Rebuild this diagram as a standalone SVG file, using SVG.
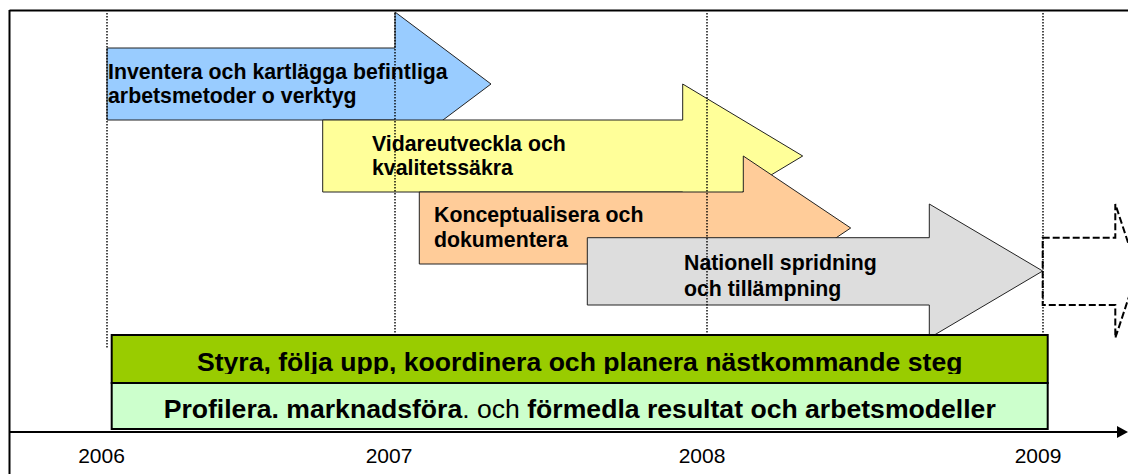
<svg xmlns="http://www.w3.org/2000/svg" width="1128" height="474" viewBox="0 0 1128 474">
<style>
  .lbl{font-family:"Liberation Sans",Arial,sans-serif;font-size:21.3px;font-weight:bold;fill:#000}
  .yr{font-family:"Liberation Sans",Arial,sans-serif;font-size:21px;fill:#000;text-anchor:middle}
  .bar{font-family:"Liberation Sans",Arial,sans-serif;font-size:26.6px;font-weight:bold;fill:#000;text-anchor:middle}
  .arw{stroke:#222;stroke-width:1;stroke-linejoin:miter}
  .dot{stroke:#000;stroke-width:1.4;stroke-dasharray:1.5 1.5;fill:none}
  .frame{stroke:#000;stroke-width:2;fill:none}
</style>
<defs>
  <clipPath id="clipA"><rect x="100" y="335" width="960" height="39"/></clipPath>
  <clipPath id="clipB"><rect x="100" y="383" width="960" height="38"/></clipPath>
</defs>
<rect width="1128" height="474" fill="#fff"/>
<g id="frame">
  <line class="frame" x1="9.5" y1="10.5" x2="1128" y2="10.5"/>
  <line class="frame" x1="9.5" y1="10" x2="9.5" y2="474"/>
</g>
<g id="phase1">
  <polygon class="arw" fill="#99CCFF" points="107,48 395,48 395,12 491,84 395,156 395,120 107,120"/>
  <text class="lbl" x="108" y="79">Inventera och kartlägga befintliga</text>
  <text class="lbl" x="108" y="103">arbetsmetoder o verktyg</text>
</g>
<g id="phase2">
  <polygon class="arw" fill="#FFFF99" points="322.7,120 682.7,120 682.7,84 802.7,156 682.7,228 682.7,192 322.7,192"/>
  <text class="lbl" x="372" y="150.5">Vidareutveckla och</text>
  <text class="lbl" x="372" y="175">kvalitetssäkra</text>
</g>
<g id="phase3">
  <polygon class="arw" fill="#FFCC99" points="419.3,192 743.3,192 743.3,156 850.7,228 743.3,300 743.3,264 419.3,264"/>
  <text class="lbl" x="434" y="221.7">Konceptualisera och</text>
  <text class="lbl" x="434" y="246.5">dokumentera</text>
</g>
<g id="phase4">
  <polygon class="arw" fill="#DDDDDD" points="587.3,237.7 929.3,237.7 929.3,204 1042.7,271 929.3,338 929.3,305 587.3,305"/>
  <text class="lbl" x="684" y="270">Nationell spridning</text>
  <text class="lbl" x="684" y="296">och tillämpning</text>
</g>
<g id="phase5">
  <polygon fill="none" stroke="#000" stroke-width="2" stroke-dasharray="7 3" points="1042.7,237.7 1115.3,237.7 1115.3,204 1137.5,271 1115.3,338 1115.3,305 1042.7,305"/>
</g>
<g id="gridlines">
  <line class="dot" x1="107" y1="13" x2="107" y2="348"/>
  <line class="dot" x1="395" y1="13" x2="395" y2="348"/>
  <line class="dot" x1="707" y1="13" x2="707" y2="348"/>
  <line class="dot" x1="1043" y1="13" x2="1043" y2="348"/>
</g>
<g id="steer">
  <rect x="111.7" y="335" width="936" height="48" fill="#99CC00" stroke="#000" stroke-width="2"/>
  <text class="bar" x="579.7" y="371" clip-path="url(#clipA)">Styra, följa upp, koordinera och planera nästkommande steg</text>
</g>
<g id="profile">
  <rect x="111.7" y="383" width="936" height="46" fill="#CCFFCC" stroke="#000" stroke-width="2"/>
  <text class="bar" x="579.7" y="417.5" clip-path="url(#clipB)">Profilera. marknadsföra<tspan font-weight="normal">. och </tspan>förmedla resultat och arbetsmodeller</text>
</g>
<g id="connectors">
  <line x1="9" y1="432" x2="1119" y2="432" stroke="#000" stroke-width="2"/>
  <polygon points="1117,426 1128,432 1117,438" fill="#000"/>
</g>
<g id="years">
  <text class="yr" x="101.5" y="462.5">2006</text>
  <text class="yr" x="389" y="462.5">2007</text>
  <text class="yr" x="702" y="462.5">2008</text>
  <text class="yr" x="1038" y="462.5">2009</text>
</g>
</svg>
